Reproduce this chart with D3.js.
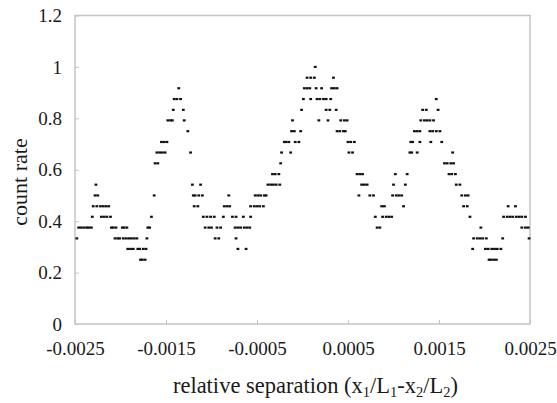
<!DOCTYPE html>
<html>
<head>
<meta charset="utf-8">
<script src="https://cdn.jsdelivr.net/npm/d3@7"></script>
<style>
  body { margin: 0; background: #fff; }
  text { font-family: "Liberation Serif", "Times New Roman", serif; fill: #1a1a1a; }
</style>
</head>
<body>
<svg id="chart"></svg>
<script>
// relative separation (x1/L1 - x2/L2)
const separation = [
  -0.00248, -0.00246, -0.00243, -0.00240, -0.00237, -0.00235, -0.00232, -0.00231, -0.00230, -0.00228,
  -0.00227, -0.00226, -0.00225, -0.00222, -0.00221, -0.00219, -0.00218, -0.00216, -0.00215, -0.00213,
  -0.00211, -0.00210, -0.00208, -0.00205, -0.00206, -0.00203, -0.00201, -0.00197, -0.00198, -0.00196,
  -0.00193, -0.00194, -0.00191, -0.00188, -0.00185, -0.00182, -0.00192, -0.00189, -0.00186, -0.00181,
  -0.00179, -0.00175, -0.00172, -0.00178, -0.00176, -0.00173, -0.00171, -0.00170, -0.00168, -0.00166,
  -0.00163, -0.00162, -0.00159, -0.00160, -0.00157, -0.00154, -0.00151, -0.00155, -0.00152, -0.00149,
  -0.00148, -0.00145, -0.00143, -0.00142, -0.00141, -0.00138, -0.00136, -0.00134, -0.00131, -0.00130,
  -0.00126, -0.00123, -0.00121, -0.00120, -0.00118, -0.00114, -0.00110, -0.00119, -0.00115, -0.00112,
  -0.00109, -0.00105, -0.00101, -0.00097, -0.00107, -0.00103, -0.00100, -0.00094, -0.00090, -0.00096,
  -0.00092, -0.00087, -0.00086, -0.00083, -0.00080, -0.00081, -0.00077, -0.00073, -0.00074, -0.00071,
  -0.00068, -0.00064, -0.00061, -0.00058, -0.00073, -0.00071, -0.00062, -0.00065, -0.00057, -0.00057,
  -0.00053, -0.00050, -0.00047, -0.00043, -0.00052, -0.00049, -0.00046, -0.00042, -0.00040, -0.00038,
  -0.00035, -0.00032, -0.00029, -0.00025, -0.00033, -0.00030, -0.00026, -0.00024, -0.00023, -0.00013,
  -0.00020, -0.00018, -0.00015, -0.00008, -0.00004, -0.00012, -0.00009, -0.00002, -0.00011, -0.00001,
  0.00001, 0.00002, 0.00005, 0.00008, 0.00005, 0.00009, 0.00013, 0.00009, 0.00014, 0.00015,
  0.00016, 0.00019, 0.00023, 0.00026, 0.00018, 0.00021, 0.00026, 0.00030, 0.00028, 0.00031,
  0.00032, 0.00035, 0.00038, 0.00034, 0.00037, 0.00038, 0.00041, 0.00045, 0.00047, 0.00042,
  0.00046, 0.00049, 0.00050, 0.00053, 0.00057, 0.00051, 0.00055, 0.00060, 0.00063, 0.00066,
  0.00062, 0.00065, 0.00068, 0.00071, 0.00074, 0.00078, 0.00080, 0.00082, 0.00085, 0.00087,
  0.00090, 0.00088, 0.00092, 0.00095, 0.00098, 0.00099, 0.00103, 0.00106, 0.00109, 0.00100,
  0.00102, 0.00111, 0.00113, 0.00115, 0.00118, 0.00120, 0.00126, 0.00119, 0.00121, 0.00129,
  0.00123, 0.00126, 0.00129, 0.00130, 0.00134, 0.00137, 0.00140, 0.00144, 0.00132, 0.00136,
  0.00149, 0.00147, 0.00140, 0.00143, 0.00147, 0.00151, 0.00141, 0.00153, 0.00156, 0.00159,
  0.00163, 0.00166, 0.00165, 0.00161, 0.00164, 0.00168, 0.00169, 0.00173, 0.00175, 0.00179,
  0.00182, 0.00177, 0.00181, 0.00184, 0.00187, 0.00188, 0.00192, 0.00195, 0.00198, 0.00202,
  0.00196, 0.00201, 0.00204, 0.00208, 0.00211, 0.00214, 0.00218, 0.00205, 0.00207, 0.00210,
  0.00213, 0.00220, 0.00221, 0.00225, 0.00228, 0.00231, 0.00235, 0.00238, 0.00241, 0.00245,
  0.00226, 0.00234, 0.00241, 0.00245, 0.00248, 0.00249
];

// count rate, same order as separation
const countRate = [
  0.333, 0.375, 0.375, 0.375, 0.375, 0.375, 0.375, 0.417, 0.458, 0.5,
  0.542, 0.458, 0.5, 0.458, 0.417, 0.458, 0.417, 0.458, 0.417, 0.458,
  0.417, 0.375, 0.375, 0.375, 0.333, 0.333, 0.333, 0.333, 0.375, 0.375,
  0.375, 0.333, 0.333, 0.333, 0.333, 0.333, 0.292, 0.292, 0.292, 0.292,
  0.292, 0.292, 0.292, 0.25, 0.25, 0.25, 0.333, 0.375, 0.375, 0.417,
  0.5, 0.625, 0.625, 0.667, 0.667, 0.667, 0.667, 0.708, 0.708, 0.708,
  0.792, 0.792, 0.792, 0.833, 0.875, 0.875, 0.917, 0.875, 0.833, 0.792,
  0.75, 0.667, 0.542, 0.5, 0.5, 0.5, 0.5, 0.458, 0.458, 0.542,
  0.417, 0.417, 0.417, 0.417, 0.375, 0.375, 0.375, 0.375, 0.375, 0.333,
  0.333, 0.417, 0.458, 0.458, 0.458, 0.5, 0.417, 0.417, 0.375, 0.375,
  0.375, 0.375, 0.375, 0.375, 0.333, 0.292, 0.292, 0.417, 0.417, 0.458,
  0.458, 0.458, 0.458, 0.458, 0.5, 0.5, 0.5, 0.5, 0.5, 0.542,
  0.542, 0.542, 0.542, 0.542, 0.583, 0.583, 0.583, 0.625, 0.667, 0.667,
  0.708, 0.708, 0.708, 0.708, 0.708, 0.75, 0.75, 0.75, 0.792, 0.833,
  0.875, 0.917, 0.917, 0.917, 0.958, 0.958, 0.958, 0.875, 1.0, 0.917,
  0.875, 0.875, 0.875, 0.875, 0.792, 0.917, 0.833, 0.833, 0.792, 0.875,
  0.917, 0.917, 0.917, 0.958, 0.833, 0.75, 0.75, 0.75, 0.75, 0.792,
  0.792, 0.792, 0.708, 0.708, 0.708, 0.667, 0.667, 0.583, 0.583, 0.583,
  0.5, 0.542, 0.542, 0.542, 0.5, 0.5, 0.417, 0.375, 0.375, 0.458,
  0.458, 0.417, 0.417, 0.417, 0.417, 0.5, 0.5, 0.5, 0.5, 0.542,
  0.583, 0.458, 0.542, 0.583, 0.667, 0.667, 0.667, 0.708, 0.708, 0.708,
  0.75, 0.75, 0.75, 0.792, 0.792, 0.792, 0.792, 0.792, 0.833, 0.833,
  0.833, 0.875, 0.75, 0.75, 0.75, 0.75, 0.708, 0.708, 0.625, 0.625,
  0.625, 0.625, 0.667, 0.583, 0.583, 0.583, 0.542, 0.542, 0.5, 0.5,
  0.5, 0.458, 0.458, 0.417, 0.292, 0.333, 0.333, 0.333, 0.333, 0.333,
  0.375, 0.292, 0.292, 0.292, 0.292, 0.292, 0.292, 0.25, 0.25, 0.25,
  0.25, 0.333, 0.417, 0.417, 0.417, 0.417, 0.417, 0.417, 0.417, 0.417,
  0.458, 0.458, 0.375, 0.375, 0.375, 0.333
];

const xTicks = [-0.0025, -0.0015, -0.0005, 0.0005, 0.0015, 0.0025];
const yTicks = [0, 0.2, 0.4, 0.6, 0.8, 1, 1.2];

const W = 557, H = 403;
const margin = { top: 15.5, right: 27, bottom: 79, left: 75 };

const svg = d3.select("#chart")
    .attr("width", W)
    .attr("height", H);

const x = d3.scaleLinear().domain([-0.0025, 0.0025]).range([margin.left, W - margin.right]);
const y = d3.scaleLinear().domain([0, 1.2]).range([H - margin.bottom, margin.top]);

const points = separation.map((s, i) => ({ s: s, c: countRate[i] }));

// plot frame
svg.append("rect")
    .attr("x", x(-0.0025))
    .attr("y", y(1.2))
    .attr("width", x(0.0025) - x(-0.0025))
    .attr("height", y(0) - y(1.2))
    .attr("fill", "none")
    .attr("stroke", "#c4c4c4")
    .attr("stroke-width", 1.5);

const yAxis = svg.append("g")
    .attr("transform", `translate(${margin.left},0)`)
    .call(d3.axisLeft(y).tickValues(yTicks).tickSize(-4).tickPadding(13).tickFormat(d => String(d)));

const xAxis = svg.append("g")
    .attr("transform", `translate(0,${H - margin.bottom})`)
    .call(d3.axisBottom(x).tickValues(xTicks).tickSize(-4).tickPadding(18).tickFormat(d => String(d)));

[yAxis, xAxis].forEach(g => {
    g.select(".domain").remove();
    g.selectAll(".tick line").attr("stroke", "#c4c4c4");
    g.selectAll(".tick text")
        .attr("fill", "#1a1a1a")
        .style("font-family", "'Liberation Serif', serif")
        .style("font-size", "19px");
});

// data dots
svg.append("g")
    .selectAll("rect")
    .data(points)
    .enter()
    .append("rect")
    .attr("x", d => x(d.s) - 1.4)
    .attr("y", d => y(d.c) - 1.1)
    .attr("width", 2.8)
    .attr("height", 2.2)
    .attr("fill", "#111");

// axis titles
svg.append("text")
    .attr("transform", "translate(27,182) rotate(-90)")
    .attr("text-anchor", "middle")
    .style("font-size", "22px")
    .text("count rate");

const xt = svg.append("text")
    .attr("x", (x(-0.0025) + x(0.0025)) / 2 + 13)
    .attr("y", 393)
    .attr("text-anchor", "middle")
    .style("font-size", "22.5px");
xt.append("tspan").text("relative separation (x");
xt.append("tspan").attr("dy", 4).style("font-size", "14.5px").text("1");
xt.append("tspan").attr("dy", -4).text("/L");
xt.append("tspan").attr("dy", 4).style("font-size", "14.5px").text("1");
xt.append("tspan").attr("dy", -4).text("-x");
xt.append("tspan").attr("dy", 4).style("font-size", "14.5px").text("2");
xt.append("tspan").attr("dy", -4).text("/L");
xt.append("tspan").attr("dy", 4).style("font-size", "14.5px").text("2");
xt.append("tspan").attr("dy", -4).text(")");
</script>
</body>
</html>
